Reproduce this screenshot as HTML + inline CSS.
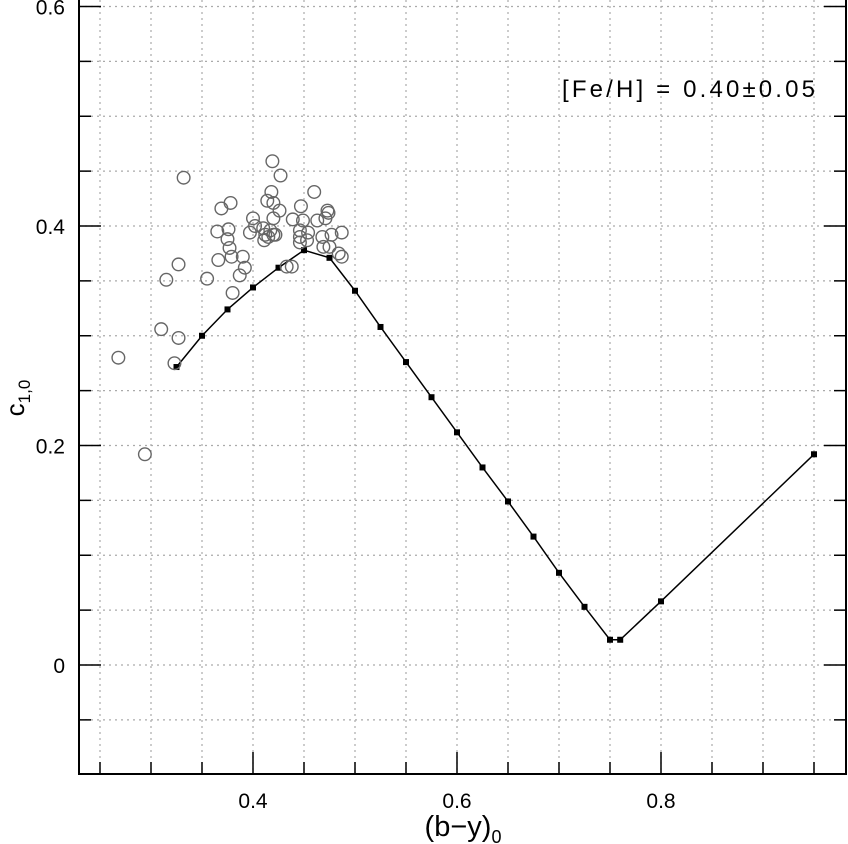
<!DOCTYPE html>
<html><head><meta charset="utf-8"><style>
html,body{margin:0;padding:0;background:#fff;}
svg{display:block;font-family:"Liberation Sans",sans-serif;}
</style></head><body>
<svg id="chart" width="848" height="844" viewBox="0 0 848 844" xmlns="http://www.w3.org/2000/svg">
<g id="grid"></g>
<g id="axes"></g>
<g id="model"></g>
<g id="stars"></g>
<text x="562" y="97" font-size="24" textLength="253" lengthAdjust="spacing" fill="#000">[Fe/H] = 0.40±0.05</text>
<text x="463" y="836" font-size="29" text-anchor="middle">(b−y)<tspan font-size="18" dy="7">0</tspan></text>
<text transform="translate(24,398) rotate(-90)" font-size="26" text-anchor="middle">c<tspan font-size="17" dy="6">1,0</tspan></text>
</svg>
<script>
const modelX=[0.325,0.35,0.375,0.4,0.425,0.45,0.475,0.5,0.525,0.55,0.575,0.6,0.625,0.65,0.675,0.7,0.725,0.75,0.76,0.8,0.95];
const modelY=[0.2715,0.30,0.324,0.344,0.362,0.378,0.371,0.341,0.308,0.276,0.244,0.212,0.180,0.149,0.117,0.084,0.053,0.023,0.023,0.058,0.192];
const starX=[0.332,0.419,0.427,0.460,0.369,0.378,0.418,0.414,0.420,0.426,0.447,0.473,0.474,0.400,0.420,0.439,0.449,0.463,0.471,0.365,0.376,0.402,0.410,0.417,0.412,0.415,0.420,0.411,0.422,0.397,0.446,0.454,0.446,0.446,0.453,0.468,0.469,0.475,0.487,0.477,0.487,0.484,0.375,0.377,0.379,0.366,0.390,0.392,0.387,0.433,0.438,0.327,0.315,0.355,0.380,0.310,0.327,0.323,0.268,0.294];
const starY=[0.444,0.459,0.446,0.431,0.416,0.421,0.431,0.423,0.421,0.414,0.418,0.414,0.412,0.407,0.407,0.406,0.405,0.405,0.407,0.395,0.397,0.400,0.398,0.396,0.392,0.390,0.392,0.387,0.392,0.394,0.396,0.394,0.390,0.385,0.387,0.390,0.381,0.381,0.394,0.392,0.372,0.375,0.388,0.380,0.372,0.369,0.372,0.362,0.355,0.363,0.363,0.365,0.351,0.352,0.339,0.306,0.298,0.275,0.280,0.192];
const xTickLabels=["0.4","0.6","0.8"];
const yTickLabels=["0","0.2","0.4","0.6"];
const NS="http://www.w3.org/2000/svg";
const X=v=>253+(v-0.4)*1020;
const Y=v=>665-v*1097.5;
const L=79,R=846,T=0,B=774;
function mk(p,tag,a){const e=document.createElementNS(NS,tag);for(const k in a)e.setAttribute(k,a[k]);p.appendChild(e);return e;}
const grid=document.getElementById('grid'),axes=document.getElementById('axes');
for(let i=0;i<=15;i++){const v=0.25+i*0.05;if(X(v)>R-2)break;
 const g=mk(grid,'line',{x1:X(v),x2:X(v),y1:T,y2:B,stroke:'#aaa','stroke-width':1.2,'stroke-dasharray':'2 4'});
 
 const major=Math.abs(Math.round(v*10)-v*10)<1e-6&&Math.round(v*10)%2==0;
 const t=mk(axes,'line',{x1:X(v),x2:X(v),y1:B,y2:B-(major?22:12),stroke:'#000','stroke-width':1.5});
 }
for(let i=0;i<=14;i++){const v=-0.05+i*0.05;
 const g=mk(grid,'line',{x1:L,x2:R,y1:Y(v),y2:Y(v),stroke:'#aaa','stroke-width':1.2,'stroke-dasharray':'2 4'});
 
 const major=Math.abs(Math.round(v*10)-v*10)<1e-6&&Math.round(v*10)%2==0;
 const len=major?22:12;
 const t1=mk(axes,'line',{x1:L,x2:L+len,y1:Y(v),y2:Y(v),stroke:'#000','stroke-width':1.5});
 
 const t2=mk(axes,'line',{x1:R-len,x2:R,y1:Y(v),y2:Y(v),stroke:'#000','stroke-width':1.5});
 }
const fr=mk(axes,'path',{d:`M${L},${T} V${B} H${R} V${T}`,fill:'none',stroke:'#000','stroke-width':2});

xTickLabels.forEach(s=>{const t=mk(axes,'text',{x:X(parseFloat(s)),y:B+34,'font-size':21,'text-anchor':'middle'});t.textContent=s;
 });
yTickLabels.forEach(s=>{const t=mk(axes,'text',{x:L-14,y:Y(parseFloat(s))+8,'font-size':21,'text-anchor':'end'});t.textContent=s;
 });
const model=document.getElementById('model');
const ln=mk(model,'polyline',{points:modelX.map((x,i)=>X(x)+','+Y(modelY[i])).join(' '),fill:'none',stroke:'#000','stroke-width':1.5});

modelX.forEach((x,i)=>{const r=mk(model,'rect',{x:X(x)-3,y:Y(modelY[i])-3,width:6,height:6,fill:'#000'});
 });
const stars=document.getElementById('stars');
starX.forEach((x,i)=>{const c=mk(stars,'circle',{cx:X(x),cy:Y(starY[i]),r:6.3,fill:'none',stroke:'#666','stroke-width':1.4});
 });
</script>
</body></html>
